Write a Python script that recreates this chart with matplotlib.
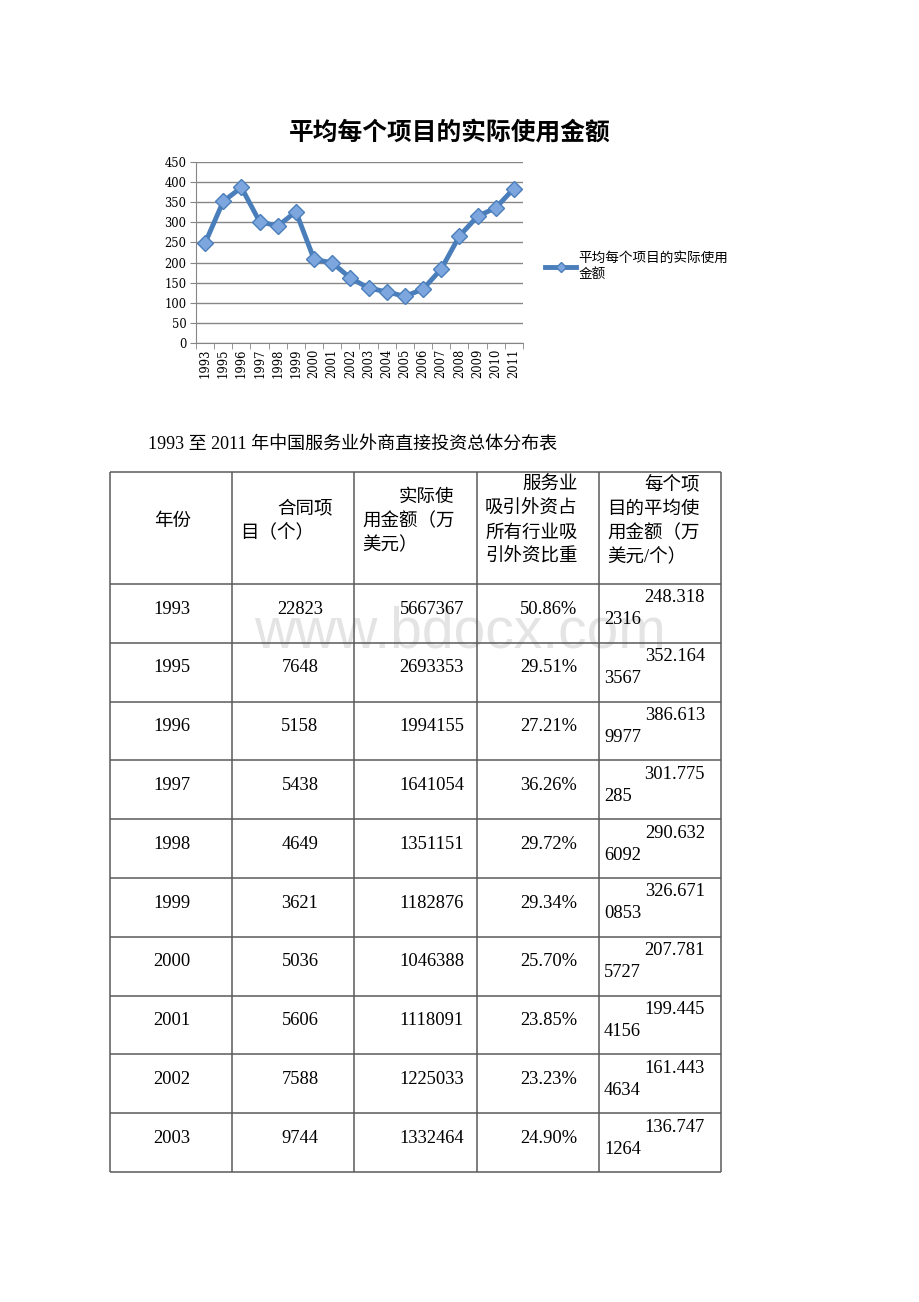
import matplotlib
matplotlib.use('Agg')
import matplotlib.pyplot as plt

# 数据 --------------------------------------------------------------------
years = ['1993', '1995', '1996', '1997', '1998', '1999', '2000', '2001', '2002', '2003',
         '2004', '2005', '2006', '2007', '2008', '2009', '2010', '2011']
avg_amount = [248.3182316, 352.1643567, 386.6139977, 301.775285, 290.6326092, 326.6710853,
              207.7815727, 199.4454156, 161.4434634, 136.7471264,
              127, 116, 134, 184, 266, 315, 336, 384]

chart_title = '平均每个项目的实际使用金额'
legend_label = '平均每个项目的实际使用\n金额'
y_ticks = [0, 50, 100, 150, 200, 250, 300, 350, 400, 450]

table_caption = '1993 至 2011 年中国服务业外商直接投资总体分布表'
header = [['年份'],
          ['合同项', '目（个）'],
          ['实际使', '用金额（万', '美元）'],
          ['服务业', '吸引外资占', '所有行业吸', '引外资比重'],
          ['每个项', '目的平均使', '用金额（万', '美元/个）']]
tab_years = ['1993', '1995', '1996', '1997', '1998', '1999', '2000', '2001', '2002', '2003']
contracts = ['22823', '7648', '5158', '5438', '4649', '3621', '5036', '5606', '7588', '9744']
amounts = ['5667367', '2693353', '1994155', '1641054', '1351151', '1182876', '1046388',
           '1118091', '1225033', '1332464']
shares = ['50.86%', '29.51%', '27.21%', '36.26%', '29.72%', '29.34%', '25.70%', '23.85%',
          '23.23%', '24.90%']
avg_text = ['248.3182316', '352.1643567', '386.6139977', '301.775285', '290.6326092',
            '326.6710853', '207.7815727', '199.4454156', '161.4434634', '136.7471264']

# 布局参数 (像素) --------------------------------------------------------------
W, H = 920, 1302
col_x = [110, 232, 354, 477, 599, 721]
head_top, head_bot = 472, 584
row_h = 58.8

serif_cjk = ['Liberation Serif', 'Noto Sans CJK SC']
cjk = ['Noto Sans CJK SC', 'DejaVu Sans']

fig = plt.figure(figsize=(W / 100, H / 100), dpi=100)

# 折线图 --------------------------------------------------------------------
ax = fig.add_axes([196 / W, 1 - 343 / H, 327 / W, 181 / H])
x = list(range(len(years)))
line_color = '#4A7EBB'
ax.plot(x, avg_amount, color=line_color, lw=3.5, marker='D', markersize=8,
        mfc='#7DA6DE', mec=line_color, mew=1, label=legend_label, zorder=3)
ax.set_xlim(-0.5, len(years) - 0.5)
ax.set_ylim(0, 450)
ax.set_yticks(y_ticks)
ax.set_xticks(x)
ax.set_xticklabels(years, rotation=90)
ax.set_xticks([i - 0.5 for i in range(len(years) + 1)], minor=True)
ax.tick_params(axis='x', which='major', length=0, pad=4)
ax.tick_params(axis='x', which='minor', length=4, color='#868686', direction='out')
ax.tick_params(axis='y', length=4, color='#868686', direction='out', pad=3)
for lab in ax.get_xticklabels() + ax.get_yticklabels():
  lab.set_fontfamily('DejaVu Serif')
  lab.set_fontsize(8.3)
ax.grid(axis='y', color='#868686', lw=1)
ax.set_axisbelow(True)
for s in ['top', 'right']:
  ax.spines[s].set_visible(False)
for s in ['left', 'bottom']:
  ax.spines[s].set_color('#868686')

fig.text(450 / W, 1 - 133 / H, chart_title, ha='center', va='center',
         fontsize=17.8, fontweight='bold', family=cjk)

ax.legend(loc='upper left', bbox_to_anchor=(545 / W, 1 - 251 / H),
          bbox_transform=fig.transFigure, frameon=False, borderaxespad=0, borderpad=0,
          handlelength=2.3, handletextpad=0.15, labelspacing=0,
          prop={'family': cjk, 'size': 9.8}, markerscale=0.6)

# 表格 ----------------------------------------------------------------------
tx = fig.add_axes([0, 0, 1, 1], zorder=-1)
tx.set_xlim(0, W)
tx.set_ylim(H, 0)
tx.axis('off')

# 水印
tx.text(460, 633, 'www.bdocx.com', ha='center', va='center', fontsize=41,
        family='Liberation Sans', color='#e4e4e4', zorder=0)

tx.text(148, 445, table_caption, ha='left', va='center', fontsize=13, family=serif_cjk)

n = len(tab_years)
row_y = [head_bot + row_h * i for i in range(n + 1)]
line_kw = dict(color='#5a5a5a', lw=1.1, zorder=2)
tx.hlines([head_top] + row_y, col_x[0], col_x[-1], **line_kw)
tx.vlines(col_x, head_top, row_y[-1], **line_kw)

fs = 13.3
char_w = 18.5
# 表头
head_mid = 521
for c, lines in enumerate(header):
  y0 = head_mid - 24 * (len(lines) - 1) / 2
  for k, t in enumerate(lines):
    if c == 0:
      tx.text((col_x[0] + col_x[1]) / 2 + 2, y0, t, ha='center', va='center',
              fontsize=fs, family=serif_cjk)
    else:
      xx = col_x[c] + 8 + (2 * char_w if k == 0 else 0)
      tx.text(xx, y0 + 24 * k, t, ha='left', va='center', fontsize=fs, family=serif_cjk)

# 数据行
for i in range(n):
  top = row_y[i]
  ym = top + 25
  tx.text(172, ym, tab_years[i], ha='center', va='center', fontsize=fs, family=serif_cjk)
  tx.text(300, ym, contracts[i], ha='center', va='center', fontsize=fs, family=serif_cjk)
  tx.text(col_x[3] - 13, ym, amounts[i], ha='right', va='center', fontsize=fs, family=serif_cjk)
  tx.text(col_x[4] - 22, ym, shares[i], ha='right', va='center', fontsize=fs, family=serif_cjk)
  tx.text(col_x[5] - 16, top + 14, avg_text[i][:7], ha='right', va='center',
          fontsize=fs, family=serif_cjk)
  tx.text(col_x[4] + 5, top + 36, avg_text[i][7:], ha='left', va='center',
          fontsize=fs, family=serif_cjk)

fig.savefig('out.png', dpi=100)
